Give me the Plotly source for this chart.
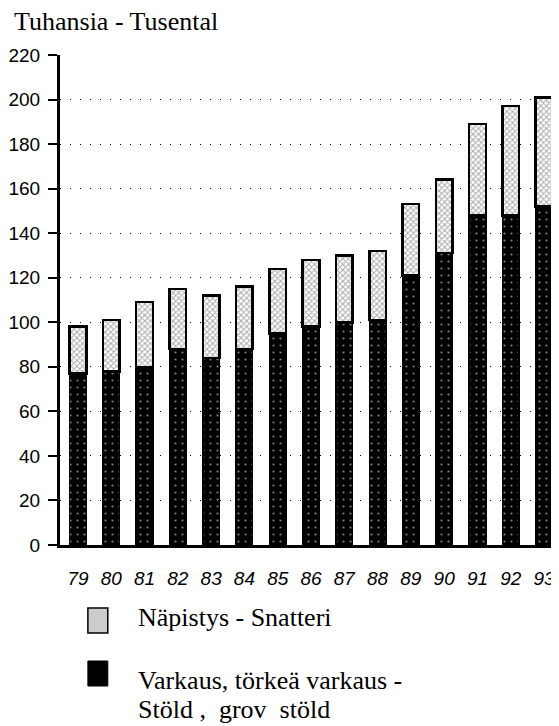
import plotly.graph_objects as go

years = ["79", "80", "81", "82", "83", "84", "85", "86", "87", "88", "89", "90", "91", "92", "93"]
stold = [77, 78, 80, 88, 84, 88, 95, 98, 100, 101, 121, 131, 148, 148, 152]
totals = [98, 101, 109, 115, 112, 116, 124, 128, 130, 132, 153, 164, 189, 197, 201]
snatteri = [t - s for t, s in zip(totals, stold)]
y_ticks = [0, 20, 40, 60, 80, 100, 120, 140, 160, 180, 200, 220]

title_text = "Tuhansia - Tusental"
legend_snatteri = "Näpistys - Snatteri"
legend_stold_1 = "Varkaus, törkeä varkaus -"
legend_stold_2 = "Stöld ,  grov  stöld"

OFF = 8  # page body margin
W, H = 559 - OFF, 726 - OFF
ml, mr, mt, mb = 50, 0, 47, 181

fig = go.Figure()
fig.add_trace(go.Bar(
    x=years, y=stold, width=0.5, name="Stöld",
    marker=dict(color="black", line=dict(color="black", width=1.5),
                pattern=dict(shape=".", fgcolor="white", bgcolor="black", size=7, solidity=0.08)),
    showlegend=False,
))
fig.add_trace(go.Bar(
    x=years, y=snatteri, width=0.5, name="Snatteri",
    marker=dict(color="white", line=dict(color="black", width=2.5),
                pattern=dict(shape="x", fgcolor="#555", bgcolor="white", size=4, solidity=0.45)),
    showlegend=False,
))

fig.update_layout(
    barmode="stack",
    width=W, height=H,
    margin=dict(l=ml, r=mr, t=mt, b=mb),
    plot_bgcolor="white", paper_bgcolor="white",
    font=dict(family="Liberation Sans, Arial", color="black"),
    xaxis=dict(
        type="category", range=[-0.54, 14.45],
        showline=True, linecolor="black", linewidth=3,
        showgrid=False, ticks="", ticklabelstandoff=14,
        tickfont=dict(family="Liberation Sans", size=19, style="italic"),
    ),
    yaxis=dict(
        range=[0, 220], tickvals=y_ticks,
        showline=True, linecolor="black", linewidth=3,
        ticks="outside", ticklen=9, tickwidth=2, tickcolor="black",
        ticklabelstandoff=4,
        showgrid=True, gridcolor="black", gridwidth=1.2, griddash="1px,9px",
        zeroline=False,
        tickfont=dict(family="Liberation Sans", size=19),
    ),
)

pw, ph = W - ml - mr, H - mt - mb
def px(xp):
    return (xp - OFF - ml) / pw
def py(yp):
    return (H - mb - (yp - OFF)) / ph

fig.add_annotation(xref="paper", yref="paper", x=px(10), y=py(21),
                   xanchor="left", yanchor="middle", showarrow=False,
                   text=title_text, font=dict(family="Liberation Serif", size=26, color="black"))

# legend swatches
fig.add_shape(type="rect", xref="paper", yref="paper", x0=px(86), x1=px(106), y0=py(633), y1=py(608),
              line=dict(color="black", width=1.5), fillcolor="#cccccc")
fig.add_shape(type="rect", xref="paper", yref="paper", x0=px(86), x1=px(106), y0=py(686), y1=py(661),
              line=dict(color="black", width=1), fillcolor="black")
legend_font = dict(family="Liberation Serif", size=26, color="black")
fig.add_annotation(xref="paper", yref="paper", x=px(134), y=py(617), xanchor="left", yanchor="middle",
                   showarrow=False, text=legend_snatteri, font=legend_font)
fig.add_annotation(xref="paper", yref="paper", x=px(134), y=py(680), xanchor="left", yanchor="middle",
                   showarrow=False, text=legend_stold_1, font=legend_font)
fig.add_annotation(xref="paper", yref="paper", x=px(134), y=py(709), xanchor="left", yanchor="middle",
                   showarrow=False, text=legend_stold_2, font=legend_font)

fig.write_html("out.html")
